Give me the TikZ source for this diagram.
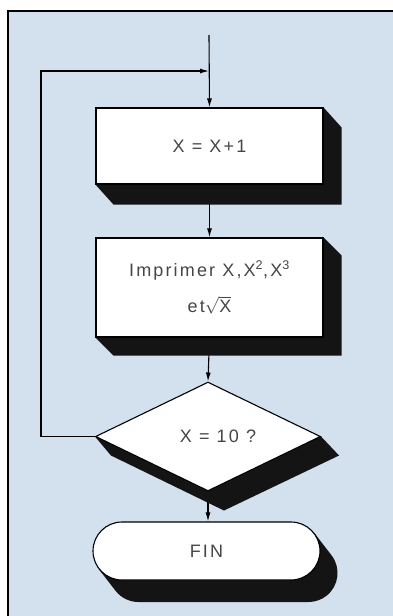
\documentclass[tikz,border=0pt]{standalone}
\usepackage{fontspec}
\newfontfamily\chartfont[LetterSpace=12]{Liberation Sans}
\usetikzlibrary{arrows.meta,calc,shapes.geometric,shapes.misc,backgrounds}
\definecolor{paper}{RGB}{211,225,239}
\definecolor{ink}{RGB}{70,70,70}
\tikzset{
  chart/.style={draw=black, line width=1.1pt, fill=white, text=ink, font=\chartfont\fontsize{18}{26}\selectfont, align=center, inner sep=0pt},
  procbox/.style={chart, rectangle, minimum width=227pt},
  testdia/.style={chart, diamond, minimum width=225pt, minimum height=87pt},
  endcap/.style={chart, rounded rectangle, minimum width=227pt, minimum height=58pt},
  depth/.style={fill=black!92},
  flow/.style={-{Latex[length=9pt,width=5pt]}, line width=1.1pt},
}

\begin{document}
\begin{tikzpicture}[x=1pt, y=1pt]
    \useasboundingbox (0,0) rectangle (393,-616);
    \node[procbox, minimum height=76pt] (incr) at (209.5,-146) {X = X+1};
    \node[procbox, minimum height=99pt] (print) at (209.5,-287.5) {Imprimer X,X\textsuperscript{2},X\textsuperscript{3}\\[10pt] et$\sqrt{\hbox{\chartfont\fontsize{18}{26}\selectfont X}}$};
    \node[testdia] (test) at (208,-436.5) {\hspace{20pt}X = 10 ?};
    \node[endcap] (fin) at (206.5,-551) {FIN};
    \coordinate (start) at (209,-35);
    \coordinate (ltop) at (41,-71);
    \coordinate (join) at (209,-71);
    \begin{scope}[on background layer]
      % frame
      \fill[paper] (8,-11) rectangle (393,-616);
      \draw[line width=1.6pt] (8,-616) -- (8,-11) -- (393,-11);
      % connectors
      \draw[flow] (start) -- (incr.north);
      \draw[flow] (test.west) -| (ltop) -- (join);
      \draw[flow] (incr.south) -- (print.north);
      \draw[flow] (print.south) -- (test.north);
      \draw[flow] (test.south) -- (test.south |- fin.north);
      % solid depth under each shape
      \fill[depth] (incr.north east) -- ++(18,-20) -- ($(incr.south east)+(18,-20)$) -- ($(incr.south west)+(18,-20)$) -- (incr.south west) -- cycle;
      \fill[depth] (print.north east) -- ++(18,-18) -- ($(print.south east)+(18,-18)$) -- ($(print.south west)+(18,-18)$) -- (print.south west) -- cycle;
      \fill[depth] (test.west) -- ($(test.west)+(16,-19)$) -- ($(test.south)+(16,-19)$) -- ($(test.east)+(18,-19)$) -- (test.east) -- cycle;
      \fill[depth] ($(fin.east)+(-29,0)+(38:29)$) -- ++(17,-22) arc[start angle=38, end angle=-90, radius=29]
        -- ($(fin.west)+(46,-51)$) arc[start angle=270, end angle=218, radius=29]
        -- ($(fin.west)+(29,0)+(218:29)$) -- cycle;
    \end{scope}
  \end{tikzpicture}
\end{document}
